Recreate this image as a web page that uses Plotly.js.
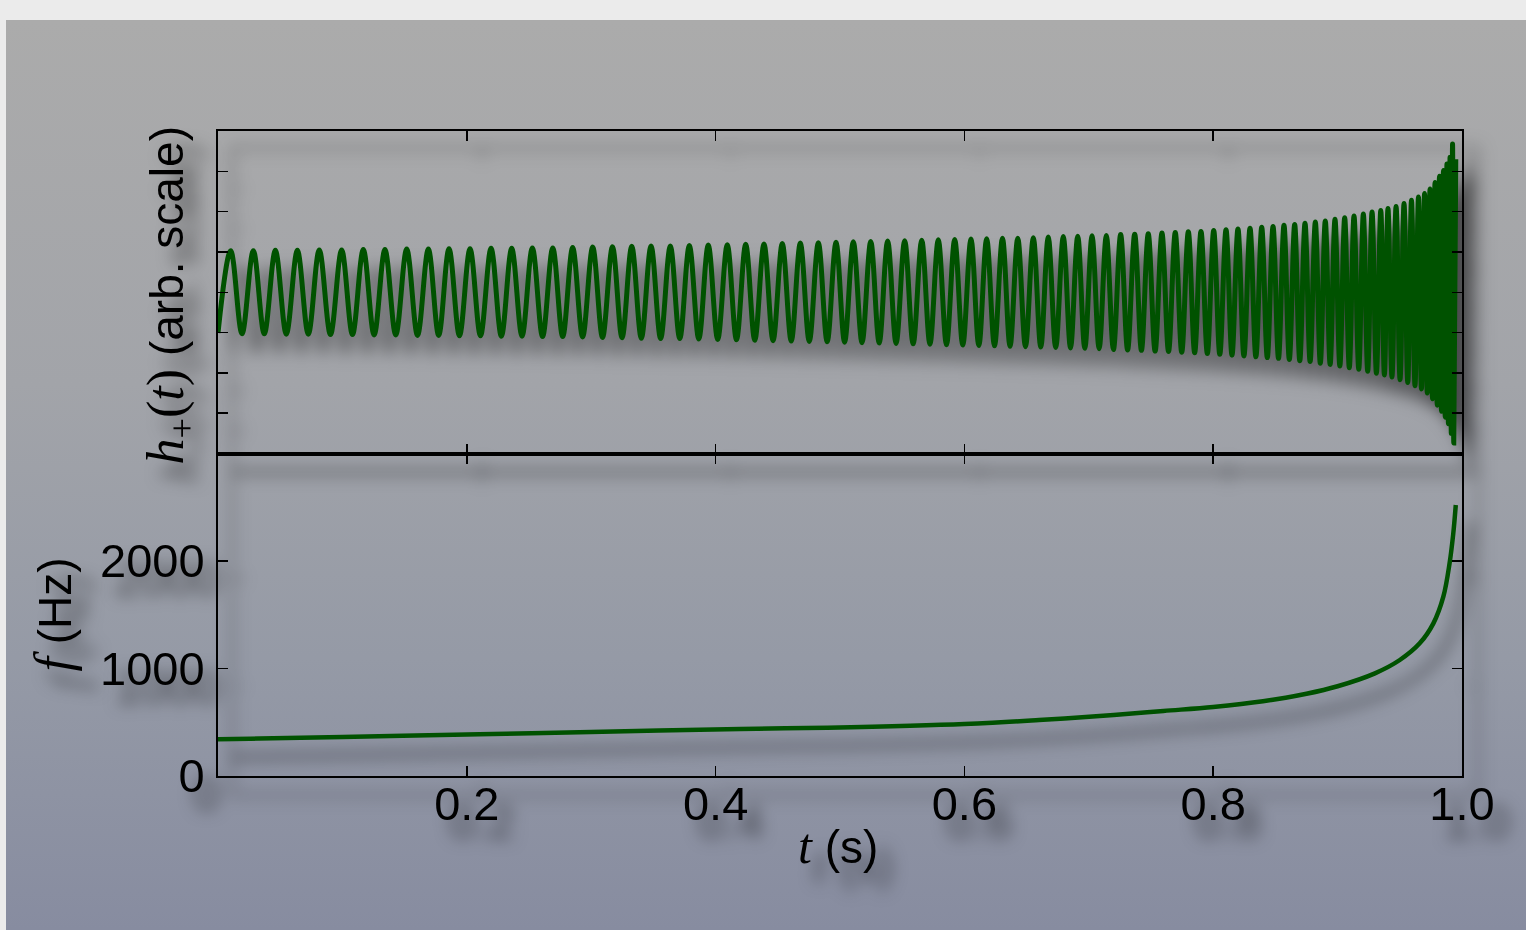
<!DOCTYPE html>
<html>
<head>
<meta charset="utf-8">
<script src="https://cdn.plot.ly/plotly-3.0.1.min.js"></script>
<style>
  html, body { margin: 0; padding: 0; background: #ebebeb; overflow: hidden; }
  #chart {
    position: absolute; left: 6px; top: 20px; width: 1520px; height: 910px;
    background: linear-gradient(to bottom, #ababab 0%, #a2a4a9 40%, #959aa6 70%, #878ca0 100%);
  }
  #chart .main-svg { filter: drop-shadow(15px 18px 8px rgba(0,0,0,0.55)); }
</style>
</head>
<body>
<div id="chart"></div>
<script>
// ---- Top panel: waveform extrema (time in s, arbitrary units) ----
const troughT = [0.0000, 0.0193, 0.0372, 0.0549, 0.0726, 0.0904, 0.1081, 0.1255, 0.1429, 0.1604,
  0.1774, 0.1941, 0.2110, 0.2278, 0.2444, 0.2609, 0.2771, 0.2931, 0.3091, 0.3248,
  0.3403, 0.3558, 0.3712, 0.3865, 0.4017, 0.4168, 0.4315, 0.4462, 0.4608, 0.4753,
  0.4897, 0.5037, 0.5177, 0.5315, 0.5451, 0.5588, 0.5723, 0.5856, 0.5987, 0.6116,
  0.6242, 0.6367, 0.6491, 0.6614, 0.6734, 0.6853, 0.6968, 0.7083, 0.7198, 0.7312,
  0.7423, 0.7533, 0.7641, 0.7747, 0.7851, 0.7953, 0.8053, 0.8151, 0.8247, 0.8343,
  0.8435, 0.8525, 0.8612, 0.8696, 0.8779, 0.8861, 0.8940, 0.9018, 0.9094, 0.9170,
  0.9242, 0.9312, 0.9376, 0.9437, 0.9502, 0.9564, 0.9622, 0.9674, 0.9721, 0.9763,
  0.9801, 0.9835, 0.9865, 0.9891, 0.9914, 0.9934];
const troughV = [-1.01, -1.03, -1.03, -1.04, -1.04, -1.05, -1.05, -1.06, -1.06, -1.07,
  -1.07, -1.08, -1.08, -1.09, -1.09, -1.10, -1.10, -1.11, -1.12, -1.13,
  -1.14, -1.15, -1.15, -1.16, -1.17, -1.18, -1.19, -1.20, -1.21, -1.22,
  -1.23, -1.24, -1.25, -1.26, -1.27, -1.28, -1.29, -1.30, -1.31, -1.32,
  -1.33, -1.34, -1.35, -1.36, -1.37, -1.38, -1.39, -1.40, -1.42, -1.43,
  -1.44, -1.46, -1.47, -1.49, -1.50, -1.52, -1.54, -1.56, -1.58, -1.60,
  -1.62, -1.64, -1.67, -1.70, -1.72, -1.76, -1.79, -1.83, -1.87, -1.91,
  -1.96, -2.01, -2.05, -2.10, -2.17, -2.24, -2.32, -2.40, -2.50, -2.64,
  -2.80, -2.95, -3.10, -3.26, -3.50, -3.74];
const peakT = [0.0102, 0.0284, 0.0461, 0.0638, 0.0814, 0.0994, 0.1168, 0.1342, 0.1517, 0.1691,
  0.1857, 0.2026, 0.2195, 0.2361, 0.2527, 0.2691, 0.2851, 0.3012, 0.3171, 0.3326,
  0.3481, 0.3636, 0.3789, 0.3941, 0.4094, 0.4242, 0.4389, 0.4536, 0.4681, 0.4826,
  0.4968, 0.5107, 0.5247, 0.5383, 0.5520, 0.5657, 0.5790, 0.5922, 0.6053, 0.6179,
  0.6306, 0.6429, 0.6554, 0.6674, 0.6795, 0.6911, 0.7026, 0.7141, 0.7256, 0.7369,
  0.7478, 0.7588, 0.7695, 0.7800, 0.7902, 0.8004, 0.8103, 0.8199, 0.8296, 0.8390,
  0.8481, 0.8569, 0.8655, 0.8738, 0.8821, 0.8901, 0.8979, 0.9057, 0.9132, 0.9207,
  0.9277, 0.9347, 0.9405, 0.9470, 0.9534, 0.9594, 0.9650, 0.9699, 0.9743, 0.9783,
  0.9819, 0.9851, 0.9879, 0.9904, 0.9924, 0.9950];
const peakV = [1.03, 1.03, 1.04, 1.04, 1.05, 1.05, 1.06, 1.06, 1.07, 1.07,
  1.08, 1.08, 1.09, 1.09, 1.10, 1.10, 1.11, 1.12, 1.13, 1.14,
  1.15, 1.15, 1.16, 1.17, 1.18, 1.19, 1.20, 1.21, 1.22, 1.23,
  1.24, 1.25, 1.26, 1.27, 1.28, 1.29, 1.30, 1.31, 1.32, 1.33,
  1.34, 1.34, 1.35, 1.37, 1.38, 1.39, 1.40, 1.41, 1.43, 1.44,
  1.45, 1.47, 1.48, 1.50, 1.51, 1.53, 1.55, 1.57, 1.59, 1.61,
  1.63, 1.66, 1.68, 1.71, 1.74, 1.77, 1.81, 1.85, 1.89, 1.94,
  1.99, 2.03, 2.08, 2.13, 2.20, 2.28, 2.36, 2.45, 2.56, 2.72,
  2.88, 3.02, 3.18, 3.35, 3.68, 3.30];

// ---- Bottom panel: frequency ----
const freqT  = [0, 0.10, 0.21, 0.30, 0.42, 0.49, 0.60, 0.66, 0.72, 0.76, 0.80, 0.84, 0.875, 0.90, 0.93, 0.95, 0.966, 0.977, 0.985, 0.990, 0.993, 0.995];
const freqHz = [341, 363, 388, 410, 437, 450, 484, 521, 567, 605, 642, 695, 765, 835, 955, 1079, 1234, 1420, 1668, 1978, 2257, 2521];

// ---- Ticks ----
const xTickVals = [0.2, 0.4, 0.6, 0.8, 1.0];
const xTickText = ['0.2', '0.4', '0.6', '0.8', '1.0'];
const fTickVals = [0, 1000, 2000];
const fTickText = ['0', '1000', '2000'];
const hTickVals = [-3, -2, -1, 0, 1, 2, 3];

// interleave extrema (trough, peak, trough, peak ...)
const hT = [], hV = [];
for (let i = 0; i < Math.max(troughT.length, peakT.length); i++) {
  if (i < troughT.length) { hT.push(troughT[i]); hV.push(troughV[i]); }
  if (i < peakT.length) { hT.push(peakT[i]); hV.push(peakV[i]); }
}

const green = '#005200';
const traces = [
  { x: hT, y: hV, type: 'scatter', mode: 'lines', xaxis: 'x2', yaxis: 'y2',
    line: { color: green, width: 5, shape: 'spline', smoothing: 1, simplify: false },
    hoverinfo: 'skip' },
  { x: freqT, y: freqHz, type: 'scatter', mode: 'lines', xaxis: 'x', yaxis: 'y',
    line: { color: green, width: 4.5, shape: 'spline', smoothing: 1 },
    hoverinfo: 'skip' }
];

const tickFont = { family: 'Liberation Sans, Arial, sans-serif', size: 47, color: '#000' };
const axBase = {
  showline: true, linecolor: '#000', linewidth: 2, mirror: 'ticks',
  ticks: 'inside', ticklen: 10, tickwidth: 1.5, tickcolor: '#000',
  showgrid: false, zeroline: false, fixedrange: true
};

const serif = "font-family:'Liberation Serif','DejaVu Serif',serif";
const layout = {
  width: 1520, height: 910,
  paper_bgcolor: 'rgba(0,0,0,0)', plot_bgcolor: 'rgba(0,0,0,0)',
  margin: { l: 212, r: 64, t: 111, b: 154 },
  showlegend: false,
  font: tickFont,
  xaxis: Object.assign({}, axBase, { domain: [0, 1], range: [0, 1], anchor: 'y',
    tickvals: xTickVals, ticktext: xTickText, tickfont: tickFont, ticklabelstandoff: -14 }),
  yaxis: Object.assign({}, axBase, { domain: [0, 0.5], range: [0, 3000], anchor: 'x',
    tickvals: fTickVals, ticktext: fTickText, tickfont: tickFont, ticklabelstandoff: 2 }),
  xaxis2: Object.assign({}, axBase, { domain: [0, 1], range: [0, 1], anchor: 'y2',
    tickvals: xTickVals, showticklabels: false }),
  yaxis2: Object.assign({}, axBase, { domain: [0.5, 1], range: [-4, 4], anchor: 'x2',
    tickvals: hTickVals, showticklabels: false }),
  annotations: [
    { text: "<span style=\"" + serif + ";font-size:50px\"><i>t</i></span> (s)", xref: 'paper', yref: 'paper',
      x: 0.4984, y: -0.108, xanchor: 'center', yanchor: 'middle', showarrow: false,
      font: { family: 'Liberation Sans, Arial, sans-serif', size: 46, color: '#000' } },
    { text: "<span style=\"" + serif + ";font-size:52px\"><i>f</i></span> (Hz)", xref: 'paper', yref: 'paper',
      x: -0.133, y: 0.2496, xanchor: 'center', yanchor: 'middle', textangle: -90, showarrow: false,
      font: { family: 'Liberation Sans, Arial, sans-serif', size: 46, color: '#000' } },
    { text: "<span style=\"" + serif + ";font-size:52px\"><i>h</i><sub>+</sub>(<i>t</i>)</span> (arb. scale)", xref: 'paper', yref: 'paper',
      x: -0.039, y: 0.7457, xanchor: 'center', yanchor: 'middle', textangle: -90, showarrow: false,
      font: { family: 'Liberation Sans, Arial, sans-serif', size: 46, color: '#000' } }
  ]
};

Plotly.newPlot('chart', traces, layout, { staticPlot: true, displayModeBar: false });
</script>
</body>
</html>
